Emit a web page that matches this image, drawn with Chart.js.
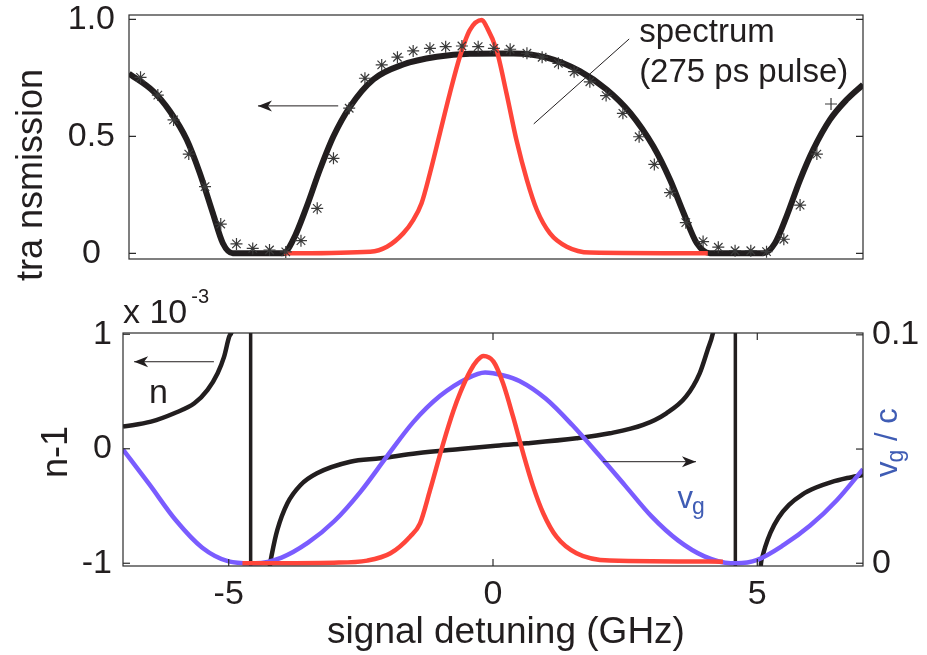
<!DOCTYPE html>
<html>
<head>
<meta charset="utf-8">
<script src="https://cdn.jsdelivr.net/npm/chart.js@4.4.1/dist/chart.umd.min.js"></script>
<style>
html, body { margin: 0; padding: 0; background: #fff; }
#wrap { position: relative; width: 927px; height: 655px; }
canvas { position: absolute; left: 0; }
#top { top: 0; }
#bottom { top: 270px; }
</style>
</head>
<body>
<div id="wrap">
  <canvas id="top" width="927" height="300"></canvas>
  <canvas id="bottom" width="927" height="385"></canvas>
</div>
<script>
const FONT = "'Liberation Sans', Arial, Helvetica, sans-serif";
const INK = '#221e1f';
const RED = '#ff453a';
const BLUE = '#7a5cff';
const LABEL_BLUE = '#3f5cb4';

// ---- top panel: transmission vs signal detuning (GHz)
const transX = [-7.0, -6.54, -6.22, -5.90, -5.65, -5.40, -5.21, -5.02, -4.06, -3.87, -3.61, -3.36, -3.10, -2.78, -2.34, -1.77, -1.13, -0.50, 0.14, 0.33, 0.97, 1.60, 2.11, 2.56, 3.00, 3.32, 3.58, 3.83, 4.08, 5.10, 5.32, 5.54, 5.80, 6.05, 6.37, 6.69, 7.0];
const transY = [0.768, 0.693, 0.607, 0.486, 0.343, 0.171, 0.043, 0.0, 0.0, 0.057, 0.2, 0.357, 0.5, 0.628, 0.743, 0.807, 0.84, 0.853, 0.854, 0.854, 0.836, 0.778, 0.70, 0.60, 0.457, 0.314, 0.171, 0.043, 0.0, 0.0, 0.043, 0.157, 0.314, 0.443, 0.571, 0.657, 0.721];

// pulse spectrum (red), top panel
const pulseTopX = [-4.04, -2.40, -2.08, -1.77, -1.58, -1.42, -1.26, -1.07, -0.88, -0.69, -0.50, -0.27, -0.18, 0.01, 0.20, 0.39, 0.59, 0.78, 1.03, 1.35, 1.79, 4.04];
const pulseTopY = [0.0, 0.007, 0.028, 0.085, 0.142, 0.214, 0.342, 0.513, 0.684, 0.84, 0.954, 0.997, 0.968, 0.869, 0.684, 0.484, 0.313, 0.185, 0.085, 0.028, 0.003, 0.0];

// measured transmission (asterisks)
const measX = [-6.78, -6.45, -6.15, -5.86, -5.55, -5.25, -4.95, -4.64, -4.32, -4.01, -3.72, -3.41, -3.10, -2.80, -2.50, -2.18, -1.88, -1.58, -1.26, -0.96, -0.65, -0.34, -0.04, 0.27, 0.59, 0.88, 1.19, 1.49, 1.79, 2.10, 2.42, 2.73, 3.02, 3.32, 3.62, 3.95, 4.24, 4.56, 4.86, 5.16, 5.49, 5.80, 6.12];
const measY = [0.752, 0.676, 0.57, 0.424, 0.285, 0.125, 0.04, 0.021, 0.014, 0.006, 0.054, 0.192, 0.406, 0.62, 0.748, 0.805, 0.838, 0.865, 0.876, 0.883, 0.886, 0.883, 0.876, 0.872, 0.855, 0.838, 0.812, 0.776, 0.733, 0.674, 0.598, 0.498, 0.38, 0.259, 0.131, 0.05, 0.026, 0.011, 0.011, 0.007, 0.06, 0.206, 0.424];
const plusX = [6.39];
const plusY = [0.638];
const transTicks = [0, 0.5, 1];

// ---- bottom panel: n-1 (x 1e-3), group velocity vg/c
const nLeftX = [-7.0, -6.47, -6.03, -5.65, -5.40, -5.21, -5.09, -4.99, -4.95, -4.91];
const nLeftY = [0.193, 0.237, 0.31, 0.397, 0.514, 0.66, 0.80, 0.98, 1.014, 1.12];
const nMidX = [-4.24, -4.22, -4.18, -4.08, -3.89, -3.64, -3.33, -2.70, -2.13, -1.44, -0.62, 0.0, 0.64, 1.58, 2.21, 2.84, 3.28, 3.65, 3.91, 4.06, 4.16, 4.2];
const nMidY = [-1.15, -1.02, -0.913, -0.709, -0.476, -0.316, -0.214, -0.113, -0.083, -0.039, -0.002, 0.024, 0.048, 0.092, 0.135, 0.208, 0.31, 0.455, 0.659, 0.863, 1.009, 1.12];
const nRightX = [5.05, 5.07, 5.10, 5.15, 5.25, 5.40, 5.60, 5.85, 6.10, 6.40, 6.70, 7.0];
const nRightY = [-1.15, -1.0, -0.94, -0.857, -0.732, -0.602, -0.49, -0.40, -0.341, -0.291, -0.256, -0.229];
const resonanceX = [-4.585, 4.585];

const vgX = [-7.0, -6.5, -6.0, -5.5, -5.0, -4.6, -4.5, -4.0, -3.5, -3.0, -2.5, -2.0, -1.5, -1.0, -0.5, -0.15, 0.2, 0.5, 1.0, 1.5, 2.0, 2.5, 3.0, 3.5, 4.0, 4.5, 4.6, 5.0, 5.5, 6.0, 6.5, 7.0];
const vgY = [0.0498, 0.0345, 0.0188, 0.0068, 0.0008, 0.0, 0.0, 0.0025, 0.009, 0.0185, 0.0315, 0.047, 0.062, 0.0733, 0.0808, 0.0835, 0.0822, 0.0798, 0.072, 0.0605, 0.0475, 0.034, 0.0205, 0.010, 0.003, 0.0, 0.0, 0.0015, 0.008, 0.0165, 0.0275, 0.0412];

// pulse (red), bottom panel, on the n-1 axis
const pulseBotX = [-4.74, -3.01, -2.38, -1.94, -1.57, -1.38, -1.19, -0.94, -0.75, -0.62, -0.43, -0.30, -0.18, 0.01, 0.19, 0.38, 0.57, 0.76, 0.95, 1.20, 1.58, 2.21, 4.35];
const pulseBotY = [-1.0, -0.995, -0.977, -0.913, -0.768, -0.651, -0.36, 0.05, 0.33, 0.49, 0.68, 0.77, 0.81, 0.761, 0.572, 0.28, -0.039, -0.331, -0.563, -0.768, -0.913, -0.977, -0.986];

const detuneTicks = [-5, 0, 5];
const nTicks = [-1, 0, 1];
const vgTicks = [0, 0.05, 0.1];

const N_MIN = -1.024, N_MAX = 1.011;
const VG_MIN = -0.0012, VG_MAX = 0.1008;

function pts(xs, ys) {
    return xs.map((x, i) => ({ x: x, y: ys[i] }));
}

function lineSet(data, color, width, order, extra) {
    return Object.assign({
        data: data,
        borderColor: color,
        backgroundColor: color,
        borderWidth: width,
        pointRadius: 0,
        fill: false,
        cubicInterpolationMode: 'monotone',
        order: order,
        clip: 0
    }, extra || {});
}

function tickFont() {
    return { family: FONT, size: 34 };
}

// keep the plot box where it is: no extra room for overflowing tick labels
function fixV(width) {
    return s => { s.width = width; s.paddingTop = 0; s.paddingBottom = 0; };
}
function fixH(height) {
    return s => { s.height = height; s.paddingLeft = 0; s.paddingRight = 0; };
}

function arrow(ctx, x1, y1, x2, y2) {
    ctx.beginPath();
    ctx.moveTo(x1, y1);
    ctx.lineTo(x2, y2);
    ctx.stroke();
    const ang = Math.atan2(y2 - y1, x2 - x1);
    ctx.save();
    ctx.translate(x2, y2);
    ctx.rotate(ang);
    ctx.beginPath();
    ctx.moveTo(0, 0);
    ctx.lineTo(-14, -5.5);
    ctx.lineTo(-10, 0);
    ctx.lineTo(-14, 5.5);
    ctx.closePath();
    ctx.fill();
    ctx.restore();
}

// box with inward ticks, MATLAB style
function drawFrame(chart, specs) {
    const ctx = chart.ctx;
    const a = chart.chartArea;
    ctx.save();
    ctx.strokeStyle = '#2b2b2b';
    ctx.lineWidth = 1.2;
    ctx.strokeRect(a.left, a.top, a.right - a.left, a.bottom - a.top);
    const len = 7;
    specs.forEach(s => {
        const sc = chart.scales[s.id];
        s.values.forEach(v => {
            const p = sc.getPixelForValue(v);
            ctx.beginPath();
            s.sides.forEach(side => {
                if (side === 'left') { ctx.moveTo(a.left, p); ctx.lineTo(a.left + len, p); }
                if (side === 'right') { ctx.moveTo(a.right, p); ctx.lineTo(a.right - len, p); }
                if (side === 'top') { ctx.moveTo(p, a.top); ctx.lineTo(p, a.top + len); }
                if (side === 'bottom') { ctx.moveTo(p, a.bottom); ctx.lineTo(p, a.bottom - len); }
            });
            ctx.stroke();
        });
    });
    ctx.restore();
}

const noGrid = { display: false, drawTicks: false };

// Top chart
new Chart(document.getElementById('top'), {
    type: 'line',
    data: {
        datasets: [
            { data: pts(measX, measY), showLine: false, pointStyle: 'star', pointRadius: 6, borderColor: '#3a3a3a', backgroundColor: '#3a3a3a', borderWidth: 1.2, order: 0, clip: false },
            { data: pts(plusX, plusY), showLine: false, pointStyle: 'cross', pointRadius: 6, borderColor: '#3a3a3a', borderWidth: 1.2, order: 0 },
            lineSet(pts(pulseTopX, pulseTopY), RED, 4.5, 1),
            lineSet(pts(transX, transY), INK, 6, 2)
        ]
    },
    options: {
        responsive: false,
        animation: false,
        layout: { padding: { left: 0, right: 64, top: 15, bottom: 41 } },
        plugins: { legend: { display: false }, tooltip: { enabled: false } },
        scales: {
            x: { type: 'linear', min: -7, max: 7, display: false },
            y: {
                min: -0.0244, max: 1.0184,
                afterFit: fixV(129),
                afterBuildTicks: s => { s.ticks = transTicks.map(v => ({ value: v })); },
                grid: noGrid,
                border: { display: false },
                ticks: {
                    font: tickFont(), color: INK, padding: 14, crossAlign: 'center',
                    callback: v => v === 1 ? '1.0' : String(v)
                }
            }
        }
    },
    plugins: [{
        id: 'topDecor',
        afterDatasetsDraw(chart) {
            const ctx = chart.ctx;
            const x = chart.scales.x, y = chart.scales.y;
            drawFrame(chart, [{ id: 'y', values: transTicks, sides: ['left', 'right'] }]);
            ctx.save();
            ctx.strokeStyle = INK;
            ctx.fillStyle = INK;
            ctx.lineWidth = 1;
            arrow(ctx, x.getPixelForValue(-3.01), y.getPixelForValue(0.63), x.getPixelForValue(-4.54), y.getPixelForValue(0.63));
            ctx.beginPath();
            ctx.moveTo(x.getPixelForValue(0.72), y.getPixelForValue(0.553));
            ctx.lineTo(x.getPixelForValue(2.54), y.getPixelForValue(0.916));
            ctx.stroke();
            ctx.font = '33px ' + FONT;
            ctx.textAlign = 'left';
            ctx.textBaseline = 'alphabetic';
            ctx.fillText('spectrum', x.getPixelForValue(2.73), y.getPixelForValue(0.904));
            ctx.fillText('(275 ps pulse)', x.getPixelForValue(2.73), y.getPixelForValue(0.733));
            // y axis title
            ctx.translate(42, 175);
            ctx.rotate(-Math.PI / 2);
            ctx.font = '36px ' + FONT;
            ctx.textAlign = 'center';
            ctx.fillText('tra nsmission', 0, 0);
            ctx.restore();
        }
    }]
});

// Bottom chart
new Chart(document.getElementById('bottom'), {
    type: 'line',
    data: {
        datasets: [
            lineSet(pts(pulseBotX, pulseBotY), RED, 4.5, 1),
            lineSet(pts(vgX, vgY), BLUE, 4.5, 2, { yAxisID: 'y2' }),
            lineSet(pts(nLeftX, nLeftY), INK, 4.5, 3),
            lineSet(pts(nMidX, nMidY), INK, 4.5, 3),
            lineSet(pts(nRightX, nRightY), INK, 4.5, 3)
        ].concat(resonanceX.map(r => lineSet([{ x: r, y: N_MIN }, { x: r, y: N_MAX }], INK, 3.5, 3, { cubicInterpolationMode: 'default', tension: 0 })))
    },
    options: {
        responsive: false,
        animation: false,
        layout: { padding: { left: 0, right: 0, top: 63, bottom: 0 } },
        plugins: { legend: { display: false }, tooltip: { enabled: false } },
        scales: {
            x: {
                type: 'linear', min: -7, max: 7,
                afterFit: fixH(89),
                afterBuildTicks: s => { s.ticks = detuneTicks.map(v => ({ value: v })); },
                grid: noGrid,
                border: { display: false },
                ticks: { font: tickFont(), color: INK, padding: 8, maxRotation: 0, callback: v => String(v) }
            },
            y: {
                position: 'left', min: N_MIN, max: N_MAX,
                afterFit: fixV(123),
                afterBuildTicks: s => { s.ticks = nTicks.map(v => ({ value: v })); },
                grid: noGrid,
                border: { display: false },
                ticks: { font: tickFont(), color: INK, padding: 11, callback: v => String(v) }
            },
            y2: {
                position: 'right', min: VG_MIN, max: VG_MAX,
                afterFit: fixV(64),
                afterBuildTicks: s => { s.ticks = vgTicks.map(v => ({ value: v })); },
                grid: noGrid,
                border: { display: false },
                ticks: { font: tickFont(), color: INK, padding: 9, callback: v => v === 0.05 ? '' : String(v) }
            }
        }
    },
    plugins: [{
        id: 'bottomDecor',
        afterDatasetsDraw(chart) {
            const ctx = chart.ctx;
            const a = chart.chartArea;
            const x = chart.scales.x, y = chart.scales.y;
            drawFrame(chart, [
                { id: 'x', values: detuneTicks, sides: ['top', 'bottom'] },
                { id: 'y', values: nTicks, sides: ['left'] },
                { id: 'y2', values: vgTicks, sides: ['right'] }
            ]);
            ctx.save();
            ctx.strokeStyle = INK;
            ctx.fillStyle = INK;
            ctx.lineWidth = 1;
            arrow(ctx, x.getPixelForValue(-5.28), y.getPixelForValue(0.76), x.getPixelForValue(-6.79), y.getPixelForValue(0.76));
            arrow(ctx, x.getPixelForValue(2.08), y.getPixelForValue(-0.113), x.getPixelForValue(3.84), y.getPixelForValue(-0.113));
            ctx.textAlign = 'left';
            ctx.textBaseline = 'alphabetic';
            ctx.font = '34px ' + FONT;
            ctx.fillText('n', x.getPixelForValue(-6.51), y.getPixelForValue(0.40));
            // exponent label
            ctx.fillText('x 10', a.left, a.top - 10);
            const ew = ctx.measureText('x 10').width;
            ctx.font = '20px ' + FONT;
            ctx.fillText('-3', a.left + ew + 4, a.top - 30);
            // vg label inside the plot
            ctx.fillStyle = LABEL_BLUE;
            const vx = x.getPixelForValue(3.49), vy = y.getPixelForValue(-0.52);
            ctx.font = '31px ' + FONT;
            ctx.fillText('v', vx, vy);
            const vw = ctx.measureText('v').width;
            ctx.font = '23px ' + FONT;
            ctx.fillText('g', vx + vw - 1, vy + 6);
            ctx.fillStyle = INK;
            // x axis title
            ctx.font = '37px ' + FONT;
            ctx.textAlign = 'center';
            ctx.fillText('signal detuning (GHz)', 506, 373);
            // left y title
            ctx.save();
            ctx.translate(67, 182);
            ctx.rotate(-Math.PI / 2);
            ctx.font = '36px ' + FONT;
            ctx.fillText('n-1', 0, 0);
            ctx.restore();
            // right y title with subscript
            ctx.save();
            ctx.translate(897, 207);
            ctx.rotate(-Math.PI / 2);
            ctx.textAlign = 'left';
            ctx.fillStyle = LABEL_BLUE;
            ctx.font = '31px ' + FONT;
            ctx.fillText('v', 0, 0);
            let w = ctx.measureText('v').width;
            ctx.font = '23px ' + FONT;
            ctx.fillText('g', w - 1, 6);
            w += ctx.measureText('g').width;
            ctx.font = '31px ' + FONT;
            ctx.fillText(' / c', w - 1, 0);
            ctx.restore();
            ctx.restore();
        }
    }]
});
</script>
</body>
</html>
